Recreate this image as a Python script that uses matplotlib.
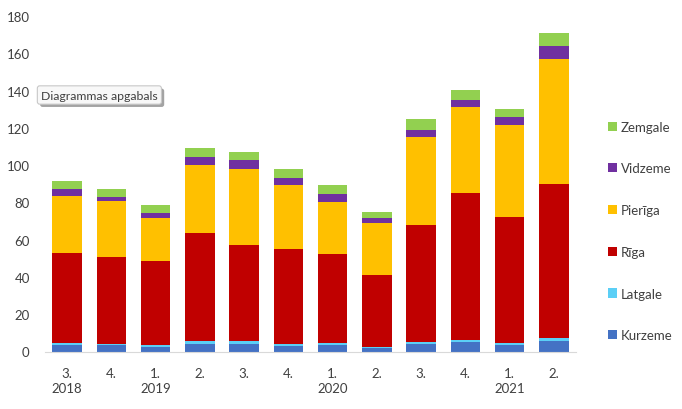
import numpy as np
import matplotlib
matplotlib.use('Agg')
import matplotlib.pyplot as plt
import matplotlib.patheffects as pe
from matplotlib.patches import Patch
from matplotlib.transforms import blended_transform_factory

# Data
quarters = ['3.', '4.', '1.', '2.', '3.', '4.', '1.', '2.', '3.', '4.', '1.', '2.']
years = ['2018', '2019', '2020', '2021']
year_pos = [0, 2, 6, 10]

kurzeme = [3.4, 3.4, 2.4, 4.0, 4.0, 3.0, 3.5, 1.9, 4.0, 5.1, 3.5, 5.6]
latgale = [1.1, 0.5, 1.1, 1.6, 1.6, 1.0, 1.1, 0.5, 1.1, 1.1, 1.1, 1.6]
riga = [48.2, 46.6, 45.0, 58.0, 51.5, 51.0, 47.7, 38.6, 62.8, 78.8, 67.6, 82.6]
pieriga = [30.6, 30.1, 23.1, 36.4, 40.9, 34.3, 27.9, 27.9, 47.1, 46.2, 49.3, 67.1]
vidzeme = [3.7, 2.1, 2.7, 4.3, 4.7, 3.8, 4.3, 2.7, 3.8, 3.7, 4.3, 7.0]
zemgale = [4.3, 4.3, 4.3, 4.8, 4.3, 4.9, 4.8, 3.3, 5.9, 5.4, 4.3, 7.0]

series = [
    ('Kurzeme', kurzeme, '#4472C4'),
    ('Latgale', latgale, '#5BCFF6'),
    ('Rīga', riga, '#C00000'),
    ('Pierīga', pieriga, '#FFC000'),
    ('Vidzeme', vidzeme, '#7030A0'),
    ('Zemgale', zemgale, '#92D050'),
]

plt.rcParams['font.family'] = ['Lato', 'DejaVu Sans']
label_color = '#404040'

fig = plt.figure(figsize=(6.82, 4.10), dpi=100)
ax = fig.add_axes([45 / 682, 1 - 352.5 / 410, 531 / 682, 335.5 / 410])

x = np.arange(len(quarters))
bottom = np.zeros(len(quarters))
for name, vals, color in series:
    ax.bar(x, vals, width=0.67, bottom=bottom, color=color, label=name)
    bottom += np.array(vals)

ax.set_xlim(-0.5, len(quarters) - 0.5)
ax.set_ylim(0, 180)
ax.set_yticks(np.arange(0, 181, 20))
ax.tick_params(axis='y', length=0, pad=11, labelsize=9.5, colors=label_color)
ax.tick_params(axis='x', length=0, pad=11, labelsize=9.5, colors=label_color)
ax.set_xticks(x)
ax.set_xticklabels(quarters)

for s in ['top', 'right', 'left']:
    ax.spines[s].set_visible(False)
ax.spines['bottom'].set_color('#D9D9D9')

# Year labels (second level of the category axis)
trans = blended_transform_factory(ax.transData, fig.transFigure)
for yr, pos in zip(years, year_pos):
    ax.text(pos, 1 - 389 / 410, yr, transform=trans, ha='center', va='center',
            fontsize=9.5, color=label_color)

# Legend on the right, reversed order
handles = [Patch(facecolor=c, edgecolor='none') for _, _, c in series][::-1]
labels = [n for n, _, _ in series][::-1]
fig.legend(handles, labels, loc='center left', bbox_to_anchor=(596 / 682, 1 - 232 / 410),
           frameon=False, fontsize=9.5, handlelength=0.7, handleheight=0.7,
           handletextpad=0.3, labelspacing=2.25, labelcolor=label_color)

# Tooltip box "Diagrammas apgabals" with a small drop shadow
tip = fig.text(41 / 682, 1 - 96 / 410, 'Diagrammas apgabals', fontsize=8.8, color=label_color,
               va='center', ha='left',
               bbox=dict(boxstyle='round,pad=0.3,rounding_size=0.2', facecolor='#F8F8F8',
                         edgecolor='#C8C8C8', linewidth=0.8))
tip.get_bbox_patch().set_path_effects([
    pe.SimplePatchShadow(offset=(2, -2), shadow_rgbFace='#8C8C8C', alpha=0.8),
    pe.Normal()])

fig.savefig('out.png', dpi=100)
